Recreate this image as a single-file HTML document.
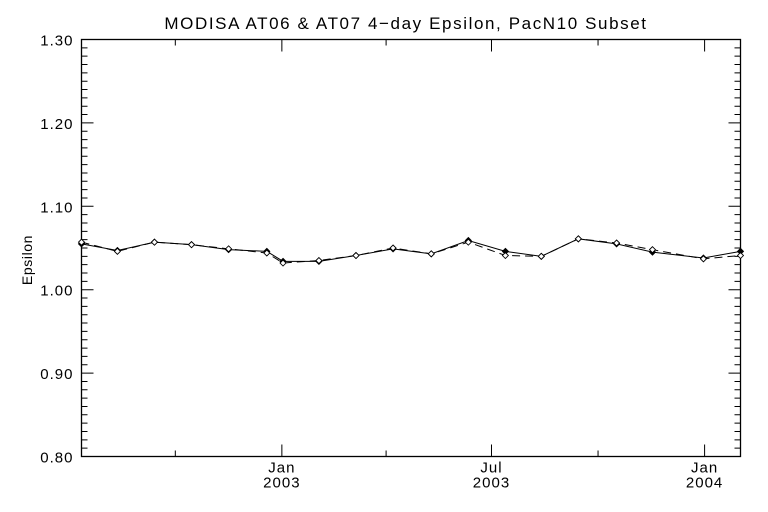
<!DOCTYPE html>
<html><head><meta charset="utf-8"><style>
body{margin:0;background:#fff}
svg{display:block;font-family:"Liberation Sans",sans-serif}
</style></head><body>
<svg id="chart" width="768" height="512" viewBox="0 0 768 512" xmlns="http://www.w3.org/2000/svg">
<rect width="768" height="512" fill="#fff"/>
<text x="406" y="29" text-anchor="middle" font-size="17" letter-spacing="1.6">MODISA AT06 &amp; AT07 4−day Epsilon, PacN10 Subset</text>
<text transform="translate(32,260) rotate(-90)" text-anchor="middle" font-size="14" letter-spacing="0.6">Epsilon</text>
<rect x="81.5" y="39.5" width="659" height="417" fill="none" stroke="#000" stroke-width="1.3"/>
<g id="axes"></g>
<g id="series"></g>
</svg>
<script>
// days relative to 2003-01-01
const days = [-173,-142,-110,-78,-46,-13,1,32,64,96,129,161,193,224,256,289,320,364,396];
const at06 = [1.055,1.047,1.057,1.054,1.048,1.046,1.034,1.034,1.041,1.049,1.043,1.059,1.046,1.040,1.061,1.055,1.045,1.038,1.046];
const at07 = [1.057,1.046,1.057,1.054,1.049,1.044,1.032,1.035,1.041,1.050,1.043,1.057,1.041,1.040,1.061,1.056,1.048,1.037,1.041];
const yTicks = [0.80,0.90,1.00,1.10,1.20,1.30];
const yTickLabels = ["0.80","0.90","1.00","1.10","1.20","1.30"];
const xMajor = [0,181,365];
const xMajorLabels = [["Jan","2003"],["Jul","2003"],["Jan","2004"]];
const xMinor = [-92,90,273];

const X0=81.5,X1=740.5,Y0=456.5,Y1=39.5;
const D0=-173,D1=396;
const x = d => X0+(d-D0)/(D1-D0)*(X1-X0);
const y = v => Y0-(v-0.80)/(0.50)*(Y0-Y1);
const NS="http://www.w3.org/2000/svg";
const axes=document.getElementById('axes'), series=document.getElementById('series');
function mk(tag,attrs,parent){const e=document.createElementNS(NS,tag);for(const k in attrs)e.setAttribute(k,attrs[k]);parent.appendChild(e);return e;}

for(let i=0;i<=50;i++){
  const v=0.80+i*0.01, yy=y(v), major=i%10===0, L=major?12:6;
  const t=mk('path',{d:`M${X0} ${yy}h${L}M${X1} ${yy}h${-L}`,stroke:'#000','stroke-width':1},axes);
  
  
}
yTicks.forEach((v,i)=>{
  const t=mk('text',{x:X0-8,y:y(v)+6,'text-anchor':'end','font-size':15,'letter-spacing':1},axes);
  t.textContent=yTickLabels[i];
  
  
});
xMajor.forEach((d,i)=>{
  const t=mk('path',{d:`M${x(d)} ${Y0}v-12M${x(d)} ${Y1}v12`,stroke:'#000','stroke-width':1},axes);
  
  
  xMajorLabels[i].forEach((s,j)=>{
    const l=mk('text',{x:x(d),y:Y0+16+j*15,'text-anchor':'middle','font-size':15,'letter-spacing':1},axes);
    l.textContent=s;
    
    
  });
});
xMinor.forEach(d=>{
  const t=mk('path',{d:`M${x(d)} ${Y0}v-6M${x(d)} ${Y1}v6`,stroke:'#000','stroke-width':1},axes);
  
  
});

function drawSeries(vals,dash,fill,name){
  const p=mk('polyline',{points:days.map((d,i)=>x(d)+','+y(vals[i])).join(' '),fill:'none',stroke:'#000','stroke-width':1},series);
  if(dash)p.setAttribute('stroke-dasharray',dash);
  
  
  days.forEach((d,i)=>{
    const cx=x(d),cy=y(vals[i]);
    const m=mk('path',{d:`M${cx} ${cy-3}L${cx+3} ${cy}L${cx} ${cy+3}L${cx-3} ${cy}Z`,fill:fill,stroke:'#000','stroke-width':0.9},series);
    
    
  });
}
drawSeries(at06,null,'#000','at06');
drawSeries(at07,'8,5','#fff','at07');
</script>
</body></html>
